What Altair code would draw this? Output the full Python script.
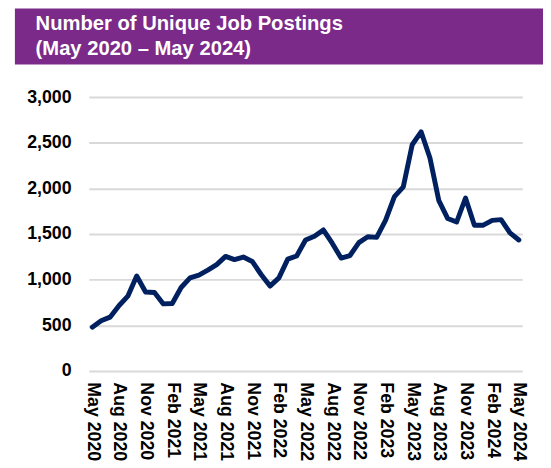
import altair as alt
import pandas as pd

month_names = ["Jan", "Feb", "Mar", "Apr", "May", "Jun", "Jul", "Aug", "Sep", "Oct", "Nov", "Dec"]
months = [f"{month_names[(4 + i) % 12]} {2020 + (4 + i) // 12}" for i in range(49)]

postings = [480, 550, 590, 715, 820, 1040, 865, 860,
            735, 740, 915, 1020, 1050, 1105, 1165, 1255, 1220, 1248, 1200, 1057,
            930, 1020, 1226, 1260, 1435, 1475, 1545, 1400, 1237, 1265, 1406, 1470,
            1464, 1650, 1910, 2017, 2478, 2620, 2333, 1866, 1670, 1632, 1895, 1597,
            1597, 1650, 1658, 1513, 1435]

tick_labels = months[::3]
y_ticks = [0, 500, 1000, 1500, 2000, 2500, 3000]
title_lines = ["Number of Unique Job Postings", "(May 2020 \u2013 May 2024)"]

FONT = "Liberation Sans"
df = pd.DataFrame({"month": months, "postings": postings})

line = alt.Chart(df).mark_line(
    color="#002060", strokeWidth=5, strokeJoin="round", strokeCap="round"
).encode(
    x=alt.X("month:O", sort=months,
            scale=alt.Scale(type="point", padding=0.39),
            axis=alt.Axis(values=tick_labels, labelAngle=90, labelPadding=11,
                          ticks=False, domain=False, grid=False, title=None,
                          labelFont=FONT, labelFontSize=18, labelFontWeight="bold",
                          labelColor="#000000", labelOverlap=False, labelLimit=300)),
    y=alt.Y("postings:Q",
            scale=alt.Scale(domain=[0, 3000], nice=False),
            axis=alt.Axis(values=y_ticks, format=",.0f", title=None, ticks=False,
                          domain=False, grid=True, gridColor="#D9D9D9", gridWidth=2,
                          labelPadding=18, labelFont=FONT, labelFontSize=18,
                          labelFontWeight="bold", labelColor="#000000")),
)

banner = alt.Chart(pd.DataFrame({"a": [0]})).mark_rect(color="#7B2A8A").encode(
    x=alt.value(-75), x2=alt.value(470), y=alt.value(-90), y2=alt.value(-33)
)

t1 = alt.Chart(pd.DataFrame({"t": [title_lines[0]]})).mark_text(
    align="left", baseline="alphabetic", font=FONT, fontSize=20.5,
    fontWeight="bold", color="white"
).encode(x=alt.value(-54), y=alt.value(-68), text="t:N")

t2 = alt.Chart(pd.DataFrame({"t": [title_lines[1]]})).mark_text(
    align="left", baseline="alphabetic", font=FONT, fontSize=20.5,
    fontWeight="bold", color="white"
).encode(x=alt.value(-54), y=alt.value(-43), text="t:N")

chart = alt.layer(banner, t1, t2, line).properties(
    width=440, height=278,
    autosize=alt.AutoSizeParams(type="none"),
    padding={"left": 82, "top": 87, "right": 21, "bottom": 95},
    background="white",
).configure_view(stroke=None)

chart.save("out.html", embed_options={"renderer": "svg", "actions": False})
